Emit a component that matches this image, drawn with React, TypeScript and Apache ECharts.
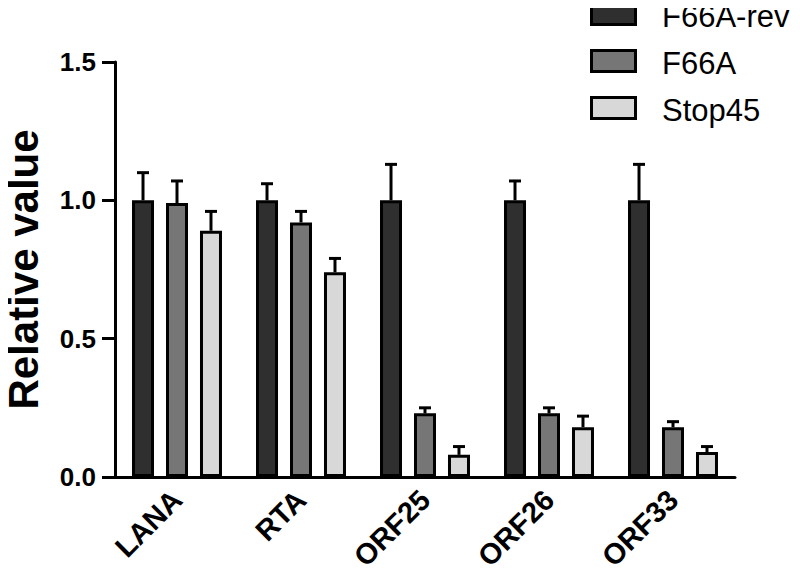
import React, { useEffect, useRef } from "react";
import * as echarts from "echarts";

const categories = ["LANA", "RTA", "ORF25", "ORF26", "ORF33"];
const seriesNames = ["F66A-rev", "F66A", "Stop45"];
const f66aRev = [1.0, 1.0, 1.0, 1.0, 1.0];
const f66aRevErr = [0.1, 0.06, 0.13, 0.07, 0.13];
const f66a = [0.99, 0.92, 0.23, 0.23, 0.18];
const f66aErr = [0.08, 0.04, 0.02, 0.02, 0.02];
const stop45 = [0.89, 0.74, 0.08, 0.18, 0.09];
const stop45Err = [0.07, 0.05, 0.03, 0.04, 0.02];
const yTicks = ["0.0", "0.5", "1.0", "1.5"];

const colors = ["#2f2f2f", "#767676", "#d8d8d8"];
const FONT = "Liberation Sans, Arial, Helvetica, sans-serif";

export default function App() {
  const ref = useRef<HTMLDivElement>(null);
  useEffect(() => {
    if (!ref.current) return;
    const chart = echarts.init(ref.current, undefined, { renderer: "svg" });
    const values = [f66aRev, f66a, stop45];
    const errs = [f66aRevErr, f66aErr, stop45Err];
    const barWidth = 22;
    const barGapPct = 0.545;
    const step = barWidth * (1 + barGapPct);

    const barSeries = values.map((v, i) => ({
      type: "bar",
      name: seriesNames[i],
      data: v,
      barWidth,
      barGap: barGapPct * 100 + "%",
      itemStyle: { color: colors[i], borderColor: "#000", borderWidth: 3 },
      z: 2,
    }));

    const errSeries = values.map((v, i) => ({
      type: "custom",
      name: seriesNames[i] + "-err",
      data: v.map((val, k) => [k, val, val + errs[i][k]]),
      z: 1,
      renderItem: (params: any, api: any) => {
        const k = api.value(0);
        const base = api.coord([k, api.value(1)]);
        const top = api.coord([k, api.value(2)]);
        const x = base[0] + (i - 1) * step;
        const style = { stroke: "#000", lineWidth: 3, fill: "none" };
        return {
          type: "group",
          children: [
            { type: "line", shape: { x1: x, y1: base[1], x2: x, y2: top[1] }, style },
            { type: "line", shape: { x1: x - 6, y1: top[1], x2: x + 6, y2: top[1] }, style },
          ],
        };
      },
    }));

    const legendGraphics: any[] = [];
    seriesNames.forEach((n, i) => {
      const y = 3.5 + i * 47;
      legendGraphics.push({
        type: "rect",
        shape: { x: 591.5, y, width: 44, height: 21 },
        style: { fill: colors[i], stroke: "#000", lineWidth: 3 },
      });
      legendGraphics.push({
        type: "text",
        x: 662,
        y: y + 13,
        style: {
          text: n,
          fontSize: 31,
          fontFamily: FONT,
          fill: "#000",
          verticalAlign: "middle",
          align: "left",
        },
      });
    });

    chart.setOption({
      animation: false,
      textStyle: { fontFamily: FONT },
      grid: { left: 115, right: 65, top: 62, bottom: 102, outerBoundsMode: "none", containLabel: false },
      graphic: legendGraphics,
      xAxis: {
        type: "category",
        data: categories,
        axisLine: { lineStyle: { color: "#000", width: 3 } },
        axisTick: { show: false },
        axisLabel: {
          rotate: 45,
          margin: 18,
          fontSize: 29,
          fontWeight: "bold",
          color: "#000",
          fontFamily: FONT,
        },
      },
      yAxis: {
        type: "value",
        min: 0,
        max: 1.5,
        interval: 0.5,
        name: "Relative value",
        nameLocation: "middle",
        nameGap: 71,
        nameRotate: 90,
        nameTextStyle: { fontSize: 42, fontWeight: "bold", color: "#000", fontFamily: FONT },
        axisLine: { show: true, lineStyle: { color: "#000", width: 3 } },
        axisTick: { show: true, length: 13, lineStyle: { color: "#000", width: 3 } },
        splitLine: { show: false },
        axisLabel: {
          margin: 19,
          fontSize: 26,
          fontWeight: "bold",
          color: "#000",
          fontFamily: FONT,
          formatter: (v: number) => yTicks[Math.round(v / 0.5)] ?? String(v),
        },
      },
      series: [...errSeries, ...barSeries],
    });
    return () => chart.dispose();
  }, []);
  return <div ref={ref} style={{ width: 800, height: 579, margin: -8 }} />;
}
